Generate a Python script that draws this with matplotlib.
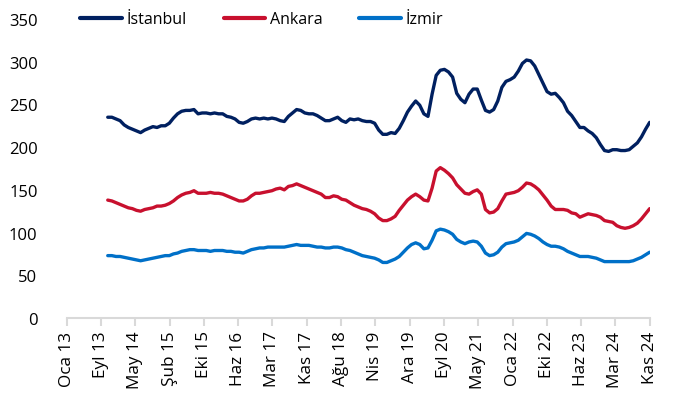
import matplotlib
matplotlib.use("Agg")
import matplotlib.pyplot as plt
import numpy as np

plt.rcParams['font.family'] = ['Open Sans', 'DejaVu Sans']

# Monthly data Nov 2013 .. Nov 2024 (month index 10..142, 0 = Jan 2013)
start_month = 10
istanbul = [235, 235, 233, 231, 226, 223, 221, 219, 217, 220, 222, 224, 223, 225, 225, 228,
            234, 239, 242, 243, 243, 244, 239, 240, 240, 239, 240, 239, 239, 236, 235, 233,
            229, 228, 230, 233, 234, 233, 234, 233, 234, 233, 231, 230, 236, 240, 244, 243,
            240, 239, 239, 237, 234, 231, 231, 233, 235, 231, 229, 233, 232, 233, 231, 230,
            230, 228, 220, 215, 215, 217, 216, 222, 231, 241, 248, 254, 249, 239, 236, 262,
            284, 290, 291, 288, 282, 263, 256, 252, 262, 268, 268, 255, 243, 241, 244, 254,
            270, 277, 279, 282, 289, 298, 302, 301, 295, 285, 275, 265, 262, 263, 258, 252,
            242, 237, 230, 223, 223, 219, 216, 211, 203, 196, 195, 197, 197, 196, 196, 197,
            201, 205, 212, 221, 229]
ankara = [138, 137, 135, 133, 131, 129, 128, 126, 125, 127, 128, 129, 131, 131, 132, 134,
          137, 141, 144, 146, 147, 149, 146, 146, 146, 147, 146, 146, 145, 143, 141, 139,
          137, 137, 139, 143, 146, 146, 147, 148, 149, 151, 152, 150, 154, 155, 157, 155,
          153, 151, 149, 147, 145, 141, 141, 143, 142, 139, 138, 135, 132, 130, 128, 127,
          125, 122, 117, 114, 114, 116, 119, 126, 132, 138, 142, 145, 142, 138, 137, 152,
          172, 176, 173, 169, 164, 156, 151, 146, 145, 148, 150, 145, 127, 123, 124, 128,
          137, 145, 146, 147, 149, 153, 158, 157, 154, 150, 144, 138, 131, 127, 127, 127,
          126, 123, 122, 118, 120, 122, 121, 120, 118, 114, 113, 112, 108, 106, 105, 106,
          108, 111, 116, 122, 128]
izmir = [73, 73, 72, 72, 71, 70, 69, 68, 67, 68, 69, 70, 71, 72, 73, 73,
         75, 76, 78, 79, 80, 80, 79, 79, 79, 78, 79, 79, 79, 78, 78, 77,
         77, 76, 78, 80, 81, 82, 82, 83, 83, 83, 83, 83, 84, 85, 86, 85,
         85, 85, 84, 83, 83, 82, 82, 83, 83, 82, 80, 79, 77, 75, 73, 72,
         71, 70, 68, 65, 65, 67, 69, 72, 77, 82, 86, 88, 86, 81, 82, 91,
         102, 104, 103, 101, 98, 92, 89, 87, 89, 90, 89, 84, 76, 73, 74, 77,
         83, 87, 88, 89, 91, 95, 99, 98, 96, 93, 89, 86, 84, 84, 83, 81,
         78, 76, 74, 72, 72, 72, 71, 70, 68, 66, 66, 66, 66, 66, 66, 66,
         67, 69, 71, 74, 77]

tick_labels = ["Oca 13", "Eyl 13", "May 14", "Şub 15", "Eki 15", "Haz 16", "Mar 17",
               "Kas 17", "Ağu 18", "Nis 19", "Ara 19", "Eyl 20", "May 21", "Oca 22",
               "Eki 22", "Haz 23", "Mar 24", "Kas 24"]
series_names = ["İstanbul", "Ankara", "İzmir"]
colors = ["#002060", "#C8102E", "#0070C8"]

fig = plt.figure(figsize=(6.82, 4.14), dpi=100)
ax = fig.add_axes([0.0978, 0.2295, 0.8548, 0.7222])

months = np.arange(start_month, start_month + len(istanbul))
for vals, name, c in zip([istanbul, ankara, izmir], series_names, colors):
    ax.plot(months, vals, color=c, lw=2.4, label=name, solid_capstyle='round')

ax.set_xlim(0, 142)
ax.set_ylim(0, 350)
ax.set_yticks(np.arange(0, 351, 50))
ax.set_xticks(np.linspace(0, 142, len(tick_labels)))
ax.set_xticklabels(tick_labels, rotation=90)

for s in ['top', 'right', 'left']:
    ax.spines[s].set_visible(False)
ax.spines['bottom'].set_color('#d9d9d9')
ax.spines['bottom'].set_linewidth(1.5)
ax.tick_params(axis='x', direction='out', length=6, width=1.5, color='#d9d9d9',
               labelsize=12.3, labelcolor='black', pad=3)
ax.tick_params(axis='y', length=0, labelsize=12, labelcolor='black', pad=21)

leg = fig.legend(loc='center left', bbox_to_anchor=(0.118, 0.951), ncol=3, frameon=False,
                 fontsize=11.5, handlelength=2.6, handletextpad=0.3, columnspacing=2.3,
                 borderaxespad=0, borderpad=0)
for h in leg.get_lines():
    h.set_linewidth(3)

fig.savefig("out.png", dpi=100)
